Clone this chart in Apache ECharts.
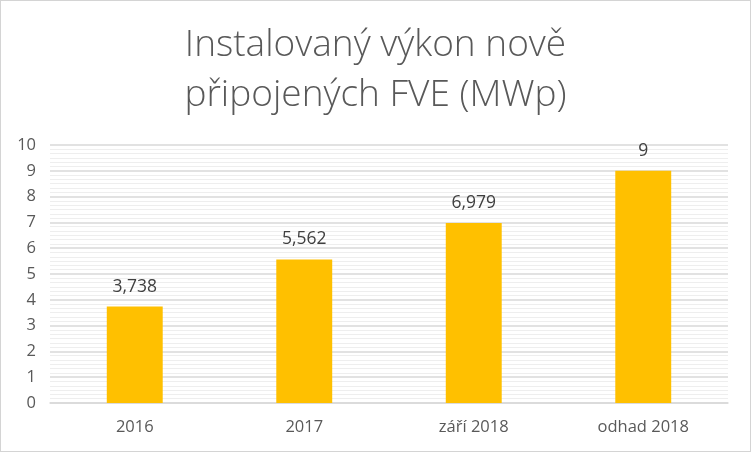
<!DOCTYPE html>
<html><head><meta charset="utf-8">
<script src="https://cdn.jsdelivr.net/npm/echarts@6/dist/echarts.min.js"></script>
<style>
html,body{margin:0;padding:0;background:#fff;}
#c{width:749px;height:450px;border:1px solid #d4d4d4;}
</style></head>
<body><div id="c"></div>
<script>
const titleText = 'Instalovaný výkon nově\npřipojených FVE (MWp)';
const categories = ['2016', '2017', 'září 2018', 'odhad 2018'];
const values = [3.738, 5.562, 6.979, 9];
const yTicks = {min: 0, max: 10, interval: 1};

const chart = echarts.init(document.getElementById('c'));
chart.setOption({
  animation: false,
  backgroundColor: '#fff',
  title: {
    text: titleText,
    left: 'center',
    top: 14,
    textStyle: {fontFamily: 'Open Sans', fontWeight: 300, fontSize: 37, color: '#595959', lineHeight: 50}
  },
  grid: {left: 49, right: 22, top: 144, bottom: 48, containLabel: false},
  xAxis: {
    type: 'category',
    data: categories,
    axisTick: {show: false},
    axisLine: {lineStyle: {color: '#d9d9d9', width: 1.5}},
    axisLabel: {color: '#595959', fontSize: 16.5, fontFamily: 'Open Sans', margin: 16}
  },
  yAxis: {
    type: 'value',
    min: yTicks.min, max: yTicks.max, interval: yTicks.interval,
    axisLine: {show: false},
    axisTick: {show: false},
    axisLabel: {color: '#595959', fontSize: 16.5, fontFamily: 'Open Sans', margin: 14},
    splitLine: {lineStyle: {color: '#d9d9d9', width: 1.5}},
    minorTick: {show: false, splitNumber: 6},
    minorSplitLine: {show: true, lineStyle: {color: '#eeeeee', width: 1}}
  },
  series: [{
    type: 'bar',
    data: values,
    barWidth: '33%',
    itemStyle: {color: '#FFC000'},
    label: {
      show: true, position: 'top', distance: 11,
      color: '#404040', fontSize: 17.5, fontFamily: 'Open Sans',
      formatter: p => String(p.value).replace('.', ',')
    }
  }]
});
</script></body></html>
